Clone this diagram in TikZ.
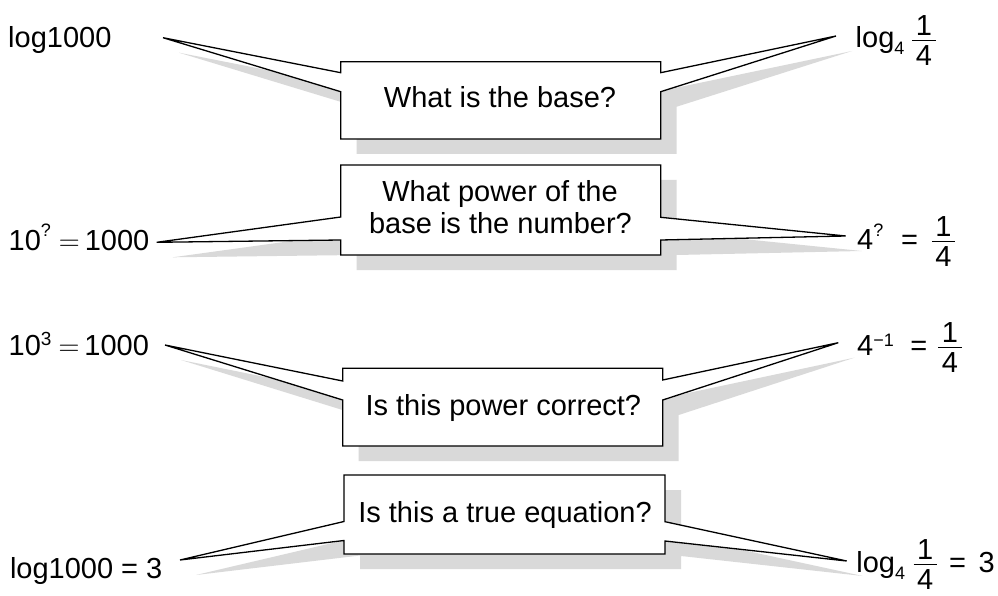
\RequirePackage{fix-cm}
\documentclass[tikz,border=0pt]{standalone}
\usepackage{amsmath}
\usepackage{fontspec}
\setmainfont{Liberation Sans}
\definecolor{shadowc}{RGB}{217,217,217}
\newcommand\fr[2]{\ensuremath{\vcenter{\offinterlineskip\halign{\hskip3.5pt\hfil##\hfil\hskip3.5pt\cr #1\cr\noalign{\kern4.5pt\hrule height1.3pt\kern4.5pt}#2\cr}}}}
\newcommand\up[3]{\raisebox{#1}{\fontsize{#2}{#2}\selectfont #3}}
\begin{document}
\begin{tikzpicture}[x=1pt,y=-1pt,
  callout/.style={draw=black,fill=white,line width=1.3pt},
  tx/.style={inner sep=0pt,anchor=base west,font=\fontsize{29}{34}\selectfont},
  bt/.style={inner sep=0pt,anchor=base,font=\fontsize{29}{34}\selectfont}]
\fill[white] (0,0) rectangle (998,596);
\useasboundingbox (0,0) rectangle (998,596);
\def\calldata{c1/340.7/660.7/61.7/139/72.7/91.7/163/37.7/72.7/91.7/836/36,
  c2/340.7/660.7/165/255/217/240/156.7/242.3/217.3/240/845.7/236,
  c3/342.7/662.7/368.3/446/381/400/165/345/380/400/838.3/342.7,
  c4/344/665/475/554/521.5/540.5/180/560/521.7/541/846.7/561}
% shadows
\foreach \n/\L/\R/\T/\B/\lu/\ll/\lx/\ly/\ru/\rl/\rx/\ry in \calldata {
  \begin{scope}[shift={(16,15)}]
    \fill[shadowc] (\L,\T) -- (\R,\T) -- (\R,\ru) -- (\rx,\ry) -- (\R,\rl) -- (\R,\B)
      -- (\L,\B) -- (\L,\ll) -- (\lx,\ly) -- (\L,\lu) -- cycle;
  \end{scope}
}
% callouts
\foreach \n/\L/\R/\T/\B/\lu/\ll/\lx/\ly/\ru/\rl/\rx/\ry in \calldata {
  \coordinate (\n-lt) at (\lx,\ly);
  \coordinate (\n-rt) at (\rx,\ry);
  \draw[callout] (\L,\T) -- (\R,\T) -- (\R,\ru) -- (\n-rt) -- (\R,\rl) -- (\R,\B)
      -- (\L,\B) -- (\L,\ll) -- (\n-lt) -- (\L,\lu) -- cycle;
}
% box texts
\node[bt] (q1) at (500,108) {What is the base?};
\node[bt] (q2a) at (500,201.7) {What power of the};
\node[bt] (q2b) at (500.5,233.3) {base is the number?};
\node[bt] (q3) at (503.3,415) {Is this power correct?};
\node[bt] (q4) at (505,522.7) {Is this a true equation?};
% left expressions
\node[tx] (e1l) at (8,48) {log1000};
\node[tx] (e2l) at (8.5,250) {10\up{14pt}{18}{?}\hskip8pt$=$\hskip5pt1000};
\node[tx] (e3l) at (8.5,355) {10\up{10pt}{19}{3}\hskip7pt$=$\hskip5pt1000};
\node[tx] (e4l) at (9.8,578) {log1000 = 3};
% right expressions
\node[tx] (e1r) at (855.5,48) {log\up{-7pt}{18}{4}\hskip8pt\fr{1}{4}};
\node[tx] (e2r) at (857,249) {4\up{12.3pt}{18}{?}\hskip17.8pt=\hskip13.9pt\fr{1}{4}};
\node[tx] (e3r) at (857,355) {4\up{9pt}{18}{−1}\hskip16.5pt=\hskip11.1pt\fr{1}{4}};
\node[tx] (e4r) at (856.1,572) {log\up{-7pt}{18}{4}\hskip8.5pt\fr{1}{4}\hskip12.5pt=\hskip12.5pt3};
\end{tikzpicture}
\end{document}
